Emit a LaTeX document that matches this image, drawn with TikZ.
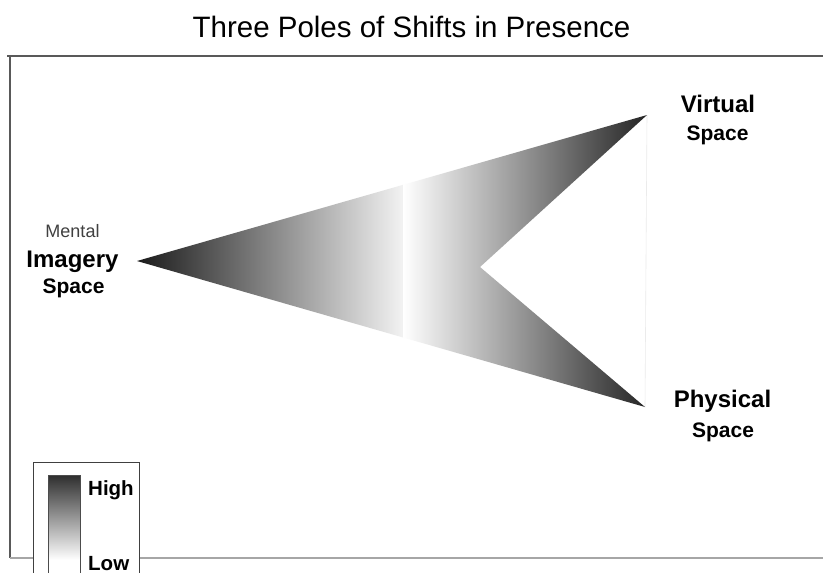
\documentclass[tikz,border=0pt]{standalone}
\usepackage{fontspec}
\setmainfont{Liberation Sans}
\begin{document}
\begin{tikzpicture}[x=1pt,y=-1pt,
  lbl/.style={font=\bfseries\fontsize{24}{28}\selectfont, anchor=base, inner sep=0pt},
  sublbl/.style={font=\bfseries\fontsize{21}{25}\selectfont, anchor=base, inner sep=0pt},
  thinlbl/.style={font=\fontsize{18}{22}\selectfont, anchor=base, inner sep=0pt, text=black!75},
  legtext/.style={font=\bfseries\fontsize{20.5}{24}\selectfont, anchor=base west, inner sep=0pt},
  frameline/.style={draw=black!65, line width=1.3pt}]
\useasboundingbox (0,0) rectangle (823,573);
\fill[white] (0,0) rectangle (823,573);

% title
\node[anchor=base, inner sep=0pt, font=\fontsize{29.5}{34}\selectfont] (title) at (411.5,37) {Three Poles of Shifts in Presence};

% frame
\draw[frameline] (7,56) -- (823,56);
\draw[frameline] (10,56) -- (10,558);
\draw[draw=black!35, line width=1.3pt] (10,558) -- (823,558);

% arrow shape
\coordinate (L) at (137,261);
\coordinate (VT) at (647,115);
\coordinate (N) at (480,267);
\coordinate (PT) at (645,407);
\draw[black!8, line width=0.6pt] (VT) -- (PT);
\begin{scope}
  \clip (L) -- (VT) -- (N) -- (PT) -- cycle;
  \shade[left color=black!90, middle color=black!32, right color=black!5] (136,100) rectangle (403,420);
  \shade[left color=white, middle color=black!36, right color=black!86] (403,100) rectangle (648,420);
\end{scope}

% labels
\node[thinlbl] (mental) at (72.5,237) {Mental};
\node[lbl] (imagery) at (72.5,267) {Imagery};
\node[sublbl] (imspace) at (73.5,293) {Space};
\node[lbl] (virtual) at (718,112) {Virtual};
\node[sublbl] (virtspace) at (717.5,140) {Space};
\node[lbl] (physical) at (722.5,407) {Physical};
\node[sublbl] (physspace) at (723,437) {Space};

% legend
\draw[draw=black!75, fill=white, line width=1pt] (33,580) -- (33,462) -- (139,462) -- (139,580);
\shade[top color=black!82, bottom color=white] (48,475) rectangle (80,560);
\fill[white] (48,560) rectangle (80,580);
\draw[black!70, line width=1pt] (48,580) -- (48,475) -- (80,475) -- (80,580);
\node[legtext] (high) at (88,495) {High};
\node[legtext] (low) at (88,570) {Low};
\end{tikzpicture}
\end{document}
